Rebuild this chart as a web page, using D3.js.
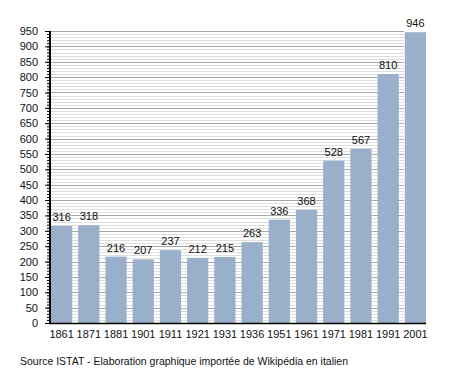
<!DOCTYPE html>
<html>
<head>
<meta charset="utf-8">
<script src="https://cdn.jsdelivr.net/npm/d3@7"></script>
<style>
  body { margin: 0; background: #fff; }
  text { font-family: "Liberation Sans", Arial, sans-serif; fill: #111; }
</style>
</head>
<body>
<div id="chart"></div>
<script>
var years = ["1861","1871","1881","1901","1911","1921","1931","1936","1951","1961","1971","1981","1991","2001"];
var population = [316, 318, 216, 207, 237, 212, 215, 263, 336, 368, 528, 567, 810, 946];
var yTicks = [0,50,100,150,200,250,300,350,400,450,500,550,600,650,700,750,800,850,900,950];

var width = 455, height = 373;

var svg = d3.select("#chart")
    .append("svg")
    .attr("width", width)
    .attr("height", height);

var data = years.map(function(y, i) { return { year: y, value: population[i] }; });

// scales
var x = d3.scaleBand()
    .domain(years)
    .range([51, 426])
    .paddingInner(0.22)
    .paddingOuter(0);

var y = d3.scaleLinear()
    .domain([0, 950])
    .range([323, 31]);

// minor grid every 10, major every 50
var minor = d3.range(10, 951, 10).filter(function(v) { return v % 50 !== 0; });
svg.append("g").selectAll("line")
    .data(minor)
    .enter().append("line")
    .attr("x1", 51).attr("x2", 404)
    .attr("y1", function(d) { return Math.round(y(d)) + 0.5; })
    .attr("y2", function(d) { return Math.round(y(d)) + 0.5; })
    .attr("stroke", "#dedede")
    .attr("stroke-width", 1);

svg.append("g").selectAll("line")
    .data(yTicks.filter(function(d) { return d > 0; }))
    .enter().append("line")
    .attr("x1", 51).attr("x2", 404)
    .attr("y1", function(d) { return Math.round(y(d)) + 0.5; })
    .attr("y2", function(d) { return Math.round(y(d)) + 0.5; })
    .attr("stroke", "#a8a8a8")
    .attr("stroke-width", 1);

// bars
svg.append("g").selectAll("rect")
    .data(data)
    .enter().append("rect")
    .attr("x", function(d) { return x(d.year); })
    .attr("width", x.bandwidth())
    .attr("y", function(d) { return y(d.value); })
    .attr("height", function(d) { return y(0) - y(d.value); })
    .attr("fill", "#99afca");

// value labels
svg.append("g").selectAll("text")
    .data(data)
    .enter().append("text")
    .attr("x", function(d) { return x(d.year) + x.bandwidth() / 2; })
    .attr("y", function(d) { return y(d.value) - 5; })
    .attr("text-anchor", "middle")
    .style("font-size", "11px")
    .text(function(d) { return d.value; });

// y axis with minor ticks
var yAxisMinor = d3.axisLeft(y)
    .tickValues(d3.range(0, 951, 10))
    .tickSize(3)
    .tickFormat("");
svg.append("g")
    .attr("transform", "translate(50,0)")
    .call(yAxisMinor)
    .call(function(g) {
      g.select(".domain").remove();
      g.selectAll("line").attr("stroke", "#000");
    });

var yAxis = d3.axisLeft(y)
    .tickValues(yTicks)
    .tickSize(5)
    .tickPadding(7);
svg.append("g")
    .attr("transform", "translate(50,0)")
    .call(yAxis)
    .call(function(g) {
      g.select(".domain").remove();
      g.selectAll("line").attr("stroke", "#000");
      g.selectAll("text").style("font-size", "11px").attr("fill", "#111")
        .style("font-family", "'Liberation Sans', Arial, sans-serif");
    });

// axis lines
svg.append("line")
    .attr("x1", 50).attr("x2", 50)
    .attr("y1", y(950)).attr("y2", y(0) + 1)
    .attr("stroke", "#000").attr("stroke-width", 2);

svg.append("line")
    .attr("x1", 49).attr("x2", 426)
    .attr("y1", y(0) + 0.5).attr("y2", y(0) + 0.5)
    .attr("stroke", "#000").attr("stroke-width", 1.5);

// x labels
var xAxis = d3.axisBottom(x).tickSize(0).tickPadding(7);
svg.append("g")
    .attr("transform", "translate(0," + y(0) + ")")
    .call(xAxis)
    .call(function(g) {
      g.select(".domain").remove();
      g.selectAll("text").style("font-size", "11px").attr("fill", "#111")
        .style("font-family", "'Liberation Sans', Arial, sans-serif");
    });

// source
svg.append("text")
    .attr("x", 20)
    .attr("y", 365)
    .style("font-size", "10.5px")
    .text("Source ISTAT - Elaboration graphique importée de Wikipédia en italien");
</script>
</body>
</html>
